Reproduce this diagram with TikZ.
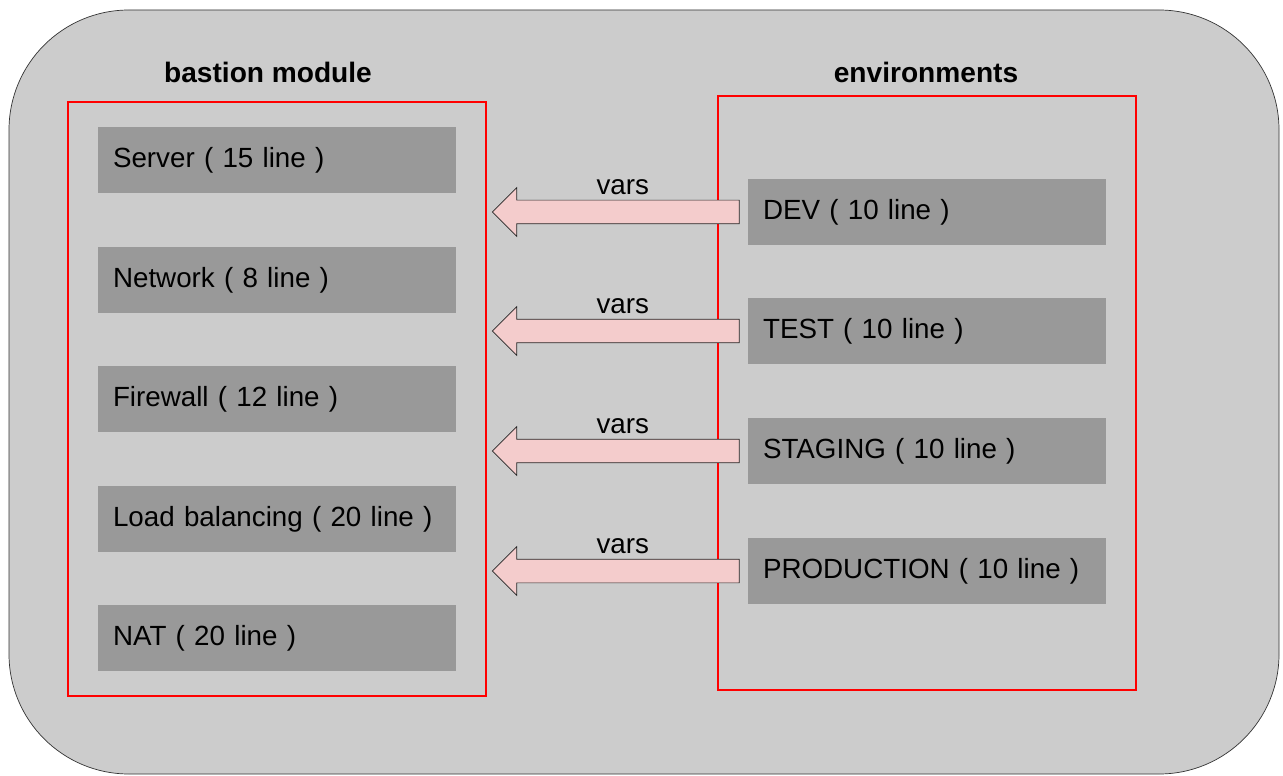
\documentclass[tikz,border=0pt]{standalone}
\usepackage{fontspec}
\setmainfont{Liberation Sans}
\usetikzlibrary{positioning,shapes.arrows}

\definecolor{panelgray}{HTML}{CCCCCC}
\definecolor{partgray}{HTML}{999999}
\definecolor{varspink}{HTML}{F4CCCC}

\begin{document}
\begin{tikzpicture}[x=0.02cm,y=-0.02cm,
    part/.style={fill=partgray,minimum width=7.16cm,minimum height=1.32cm,
        text width=6.56cm,inner xsep=0.3cm,align=left,
        font=\fontsize{15.8}{19}\selectfont},
    group/.style={draw=red,thick},
    title/.style={font=\bfseries\fontsize{16}{19}\selectfont},
    varsarrow/.style={single arrow,draw=black!85,fill=varspink,
        shape border rotate=180,inner xsep=0pt,inner ysep=0.23cm,
        minimum height=4.94cm,
        single arrow head extend=0.25cm,single arrow head indent=0pt}]
\useasboundingbox (0,0) rectangle (1283,776);
\draw[draw=black!80,fill=panelgray,rounded corners=2.4cm] (9,10) rectangle (1279,774);

% bastion module
\node[title] (bastiontitle) at (268,72) {bastion module};
\draw[group] (68,102) rectangle (486,696);
\foreach \name/\txt/\y in {server/Server ( 15 line )/160,
    network/Network ( 8 line )/280,
    firewall/Firewall ( 12 line )/399,
    lb/Load balancing ( 20 line )/519,
    nat/NAT ( 20 line )/638}
  \node[part] (\name) at (277,\y) {\txt};

% environments
\node[title] (envtitle) at (926,72) {environments};
\draw[group] (718,96) rectangle (1136,690);
\foreach \name/\txt/\y in {dev/DEV ( 10 line )/212,
    test/TEST ( 10 line )/331,
    staging/STAGING ( 10 line )/451,
    prod/PRODUCTION ( 10 line )/571}
{
  \node[part] (\name) at (927,\y) {\txt};
  \node[varsarrow,anchor=tail] (arr-\name) at ([xshift=-0.16cm]\name.west) {};
  \node[font=\fontsize{15.8}{19}\selectfont,above=-0.02cm of arr-\name,xshift=0.02cm] {vars};
}
\end{tikzpicture}
\end{document}
